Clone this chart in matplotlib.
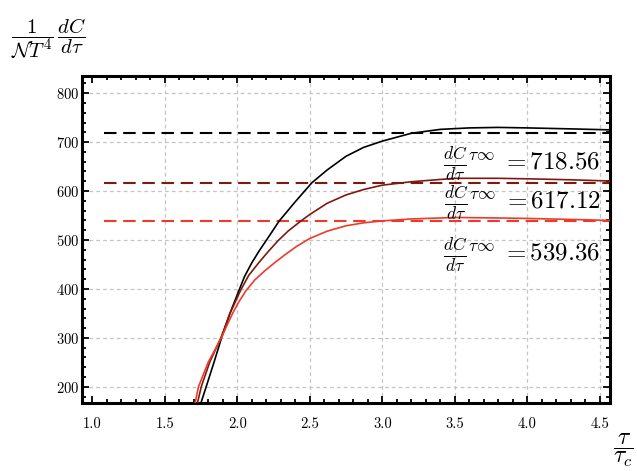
import matplotlib.pyplot as plt
import matplotlib.ticker as mticker

tau_black = [1.732, 1.75, 1.786, 1.84, 1.894, 1.95, 2.015, 2.05, 2.10, 2.15, 2.20, 2.29,
             2.40, 2.515, 2.62, 2.75, 2.87, 3.0, 3.2, 3.4, 3.6, 3.8, 4.0, 4.3, 4.57]
rate_black = [150, 167, 200, 250, 302, 350, 399, 425, 453, 477, 499, 539,
              578, 617, 643, 671, 689, 702, 718, 726, 729, 730, 729, 727, 725]

tau_dark = [1.71, 1.726, 1.752, 1.81, 1.89, 1.95, 2.025, 2.08, 2.15, 2.21, 2.28, 2.35,
            2.44, 2.5, 2.62, 2.75, 2.87, 3.0, 3.2, 3.5, 3.8, 4.0, 4.3, 4.57]
rate_dark = [150, 167, 200, 250, 302, 350, 398, 428, 454, 475, 498, 518,
             539, 552, 575, 592, 603, 612, 619, 626, 626, 625, 623, 620.5]

tau_red = [1.69, 1.71, 1.733, 1.80, 1.894, 1.93, 1.97, 2.01, 2.06, 2.12, 2.19, 2.26,
           2.33, 2.41, 2.5, 2.62, 2.75, 2.87, 3.0, 3.2, 3.5, 3.8, 4.0, 4.3, 4.57]
rate_red = [150, 167, 200, 250, 302, 326, 351, 373, 396, 418, 437, 454,
            470, 487, 503, 518, 529, 535, 539, 543, 546, 545, 544, 542, 540]

asymptotes = [718.56, 617.12, 539.36]
colors = ["#000000", "#7d1a10", "#ee3a2a"]
label_y = [656, 575, 469]

x_ticks = [1.0, 1.5, 2.0, 2.5, 3.0, 3.5, 4.0, 4.5]
y_ticks = [200, 300, 400, 500, 600, 700, 800]


def main() -> None:
    plt.rcParams["mathtext.fontset"] = "cm"
    plt.rcParams["font.family"] = "serif"
    plt.rcParams["font.serif"] = ["cmr10", "DejaVu Serif"]
    plt.rcParams["axes.formatter.use_mathtext"] = True

    fig = plt.figure(figsize=(6.37, 4.71), dpi=100)
    ax = fig.add_axes([0.1287, 0.1444, 0.8289, 0.6942])

    # Asymptote lines
    for val, col in zip(asymptotes, colors):
        ax.plot([1.08, 4.6], [val, val], color=col, lw=1.5, dashes=(6, 3.2), zorder=2)

    # Curves
    ax.plot(tau_black, rate_black, color=colors[0], lw=1.2, zorder=3)
    ax.plot(tau_dark, rate_dark, color=colors[1], lw=1.2, zorder=3)
    ax.plot(tau_red, rate_red, color=colors[2], lw=1.2, zorder=3)

    # Annotations
    for val, yy in zip(asymptotes, label_y):
        ax.text(4.505, yy, r"$\frac{dC}{d\tau}{}^{\tau\infty}\;= %.2f$" % val,
                ha="right", va="center", fontsize=18, zorder=4)

    ax.set_xlim(0.93, 4.57)
    ax.set_ylim(167, 835)
    ax.set_xticks(x_ticks)
    ax.set_yticks(y_ticks)
    ax.xaxis.set_major_formatter(mticker.FormatStrFormatter("%.1f"))
    ax.xaxis.set_minor_locator(mticker.MultipleLocator(0.1))
    ax.yaxis.set_minor_locator(mticker.MultipleLocator(20))

    ax.grid(True, which="major", color="#c4c4c4", lw=0.9, dashes=(3, 2.5), zorder=1)
    ax.xaxis.get_gridlines()[0].set_visible(False)

    ax.tick_params(which="both", direction="in", top=True, right=True, width=1.3, labelsize=10.5)
    ax.tick_params(which="major", length=5)
    ax.tick_params(which="minor", length=3)
    ax.tick_params(axis="x", pad=10)
    ax.tick_params(axis="y", pad=2)
    for sp in ax.spines.values():
        sp.set_linewidth(2.2)

    # Axis labels placed like the reference
    fig.text(0.018, 0.918, r"$\dfrac{1}{\mathcal{N}T^4}\,\dfrac{dC}{d\tau}$",
             fontsize=15, ha="left", va="center")
    fig.text(0.962, 0.045, r"$\dfrac{\tau}{\tau_c}$", fontsize=17, ha="left", va="center")

    fig.savefig("out.png", dpi=100)


if __name__ == "__main__":
    main()
